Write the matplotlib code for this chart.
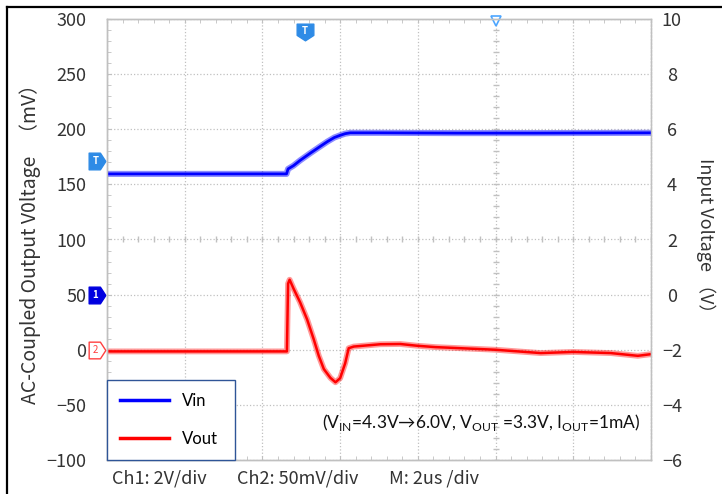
import numpy as np
import matplotlib.pyplot as plt
from matplotlib.ticker import MultipleLocator
from matplotlib.path import Path
from matplotlib.lines import Line2D

plt.rcParams['font.family'] = ['Noto Sans CJK SC', 'DejaVu Sans']
plt.rcParams['mathtext.fontset'] = 'custom'
plt.rcParams['mathtext.rm'] = 'Lato'
plt.rcParams['mathtext.fallback'] = 'stixsans'

# time in us; Vin in V (right axis); Vout AC-coupled in mV (left axis)
vin_t = [0.0, 4.62, 4.66, 4.80, 4.97, 5.23, 5.49, 5.67, 5.85, 6.0, 6.13, 6.26, 7.0, 9.0, 11.0, 14.0]
vin_v = [4.38, 4.38, 4.56, 4.68, 4.87, 5.13, 5.38, 5.55, 5.70, 5.78, 5.84, 5.87, 5.87, 5.86, 5.86, 5.87]

vout_t = [0.0, 2.0, 4.63, 4.66, 4.70, 4.80, 4.97, 5.15, 5.32, 5.45, 5.58, 5.75, 5.88,
          6.0, 6.13, 6.22, 6.35, 7.04, 7.55, 7.99, 8.45, 10.0, 11.16, 12.0, 12.96, 13.66, 14.0]
vout_mv = [-1.5, -1.5, -1.5, 60, 63.5, 55.5, 43.0, 27.5, 9.5, -5.5, -17.5, -25.5, -29.5,
           -25.8, -12.2, 1.4, 2.9, 5.0, 5.2, 3.6, 2.4, 0.0, -3.0, -2.0, -3.0, -5.5, -4.0]

left_ticks = [-100, -50, 0, 50, 100, 150, 200, 250, 300]
right_ticks = [-6, -4, -2, 0, 2, 4, 6, 8, 10]

gray = '#C0C0C0'
txt = '#333333'

fig = plt.figure(figsize=(7.22, 4.94), dpi=100)
ax = fig.add_axes([107/722, 34/494, 544/722, 441/494])
ax2 = ax.twinx()

ax.set_xlim(0, 14)
ax.set_ylim(-100, 300)
ax2.set_ylim(-6, 10)

ax.set_xticks(np.arange(0, 14.1, 2))
ax.xaxis.set_minor_locator(MultipleLocator(0.4))
ax.set_yticks(left_ticks)
ax.yaxis.set_minor_locator(MultipleLocator(10))
ax2.set_yticks(right_ticks)

ax.grid(True, which='major', linestyle=':', color=gray, linewidth=0.9)
for a in (ax, ax2):
    for s in a.spines.values():
        s.set_color(gray)
        s.set_linewidth(1.0)
ax.spines['right'].set_linestyle(':')

ax.tick_params(axis='x', which='both', direction='in', top=True, bottom=True,
               labelbottom=False, length=3, color=gray)
ax.tick_params(axis='y', which='major', direction='in', length=3, color=gray,
               labelsize=13, labelcolor=txt, pad=15)
ax.tick_params(axis='y', which='minor', direction='in', length=3, color=gray)
ax2.tick_params(axis='y', which='both', length=0, labelsize=13, labelcolor=txt, pad=15)
for lab in ax2.get_yticklabels():
    lab.set_horizontalalignment('center')

# crosshair ticks through the screen centre
mx = np.arange(0, 14.01, 0.4)
my = np.arange(-100, 300.1, 10)
ax.plot(mx, [100] * len(mx), '|', ms=5, color=gray, mew=1)
ax.plot([10] * len(my), my, '_', ms=5, color=gray, mew=1)

# traces
ax.plot(vout_t, vout_mv, color='#FF0000', lw=4.2, alpha=0.4, solid_joinstyle='round')
ax.plot(vout_t, vout_mv, color='#FF0000', lw=1.8, label='Vout')
ax2.plot(vin_t, vin_v, color='#0000FF', lw=4.4, alpha=0.45, solid_joinstyle='round')
ax2.plot(vin_t, vin_v, color='#0000FF', lw=2.0, label='Vin')

h_in = Line2D([], [], color='#0000FF', lw=2.5)
h_out = Line2D([], [], color='#FF0000', lw=2.5)
leg = ax2.legend([h_in, h_out], ['Vin', 'Vout'], loc='lower left',
                 bbox_to_anchor=(0, 0, 0.235, 0.172), mode='expand', borderaxespad=0,
                 fancybox=False, framealpha=1, edgecolor='#2F5597', handlelength=2.9,
                 handletextpad=0.8, labelspacing=1.3, borderpad=0.8,
                 prop={'family': 'Lato', 'size': 12})
leg.get_frame().set_linewidth(1.0)

# scope markers
shield_down = Path([(-1, 1), (1, 1), (1, -0.35), (0, -1), (-1, -0.35), (-1, 1)],
                   [1, 2, 2, 2, 2, 79])
tag_right = Path([(-1, 1), (0.35, 1), (1, 0), (0.35, -1), (-1, -1), (-1, 1)],
                 [1, 2, 2, 2, 2, 79])
yt = ax.get_yaxis_transform()
ax.plot([5.1], [288], marker=shield_down, ms=12, color='#2E8BE6', clip_on=False)
ax.text(5.1, 289, 'T', color='white', fontsize=7, ha='center', va='center',
        fontweight='bold', clip_on=False)
ax.plot([10], [298], marker='v', ms=7, mfc='white', mec='#4DA6FF', mew=1.2, clip_on=False)
ax.plot([-0.018], [171], marker=tag_right, ms=12, color='#2E8BE6', transform=yt, clip_on=False)
ax.text(-0.021, 171, 'T', color='white', fontsize=7, ha='center', va='center',
        fontweight='bold', transform=yt)
ax.plot([-0.018], [50], marker=tag_right, ms=12, color='#0000E0', transform=yt, clip_on=False)
ax.text(-0.021, 50, '1', color='white', fontsize=7, ha='center', va='center',
        fontweight='bold', transform=yt)
ax.plot([-0.018], [0], marker=tag_right, ms=12, mfc='white', mec='#FF4040', mew=1,
        transform=yt, clip_on=False)
ax.text(-0.021, 0, '2', color='#FF4040', fontsize=7, ha='center', va='center', transform=yt)

ax.set_ylabel('AC-Coupled Output V0ltage   （mV）', fontsize=14, color=txt, labelpad=4)
ax2.set_ylabel('Input Voltage （V）', fontsize=13, color=txt, rotation=270, labelpad=24)

ax.text(0.395, 0.085,
        r'(V$_{\rm IN}$=4.3V$→$6.0V, V$_{\rm OUT}$ =3.3V, I$_{\rm OUT}$=1mA)',
        transform=ax.transAxes, fontsize=12.5, family='Lato', color='#111111', va='center')

fig.text(112/722, 1 - 478/494, 'Ch1: 2V/div', fontsize=13, color=txt, va='center')
fig.text(237/722, 1 - 478/494, 'Ch2: 50mV/div', fontsize=13, color=txt, va='center')
fig.text(389/722, 1 - 478/494, 'M: 2us /div', fontsize=13, color=txt, va='center')

# outer frame (top and left edges)
fig.add_artist(Line2D([7/722, 1], [1 - 7/494, 1 - 7/494], color='black', lw=1.6))
fig.add_artist(Line2D([7/722, 7/722], [0, 1 - 7/494], color='black', lw=1.6))

fig.savefig('out.png', dpi=100)
